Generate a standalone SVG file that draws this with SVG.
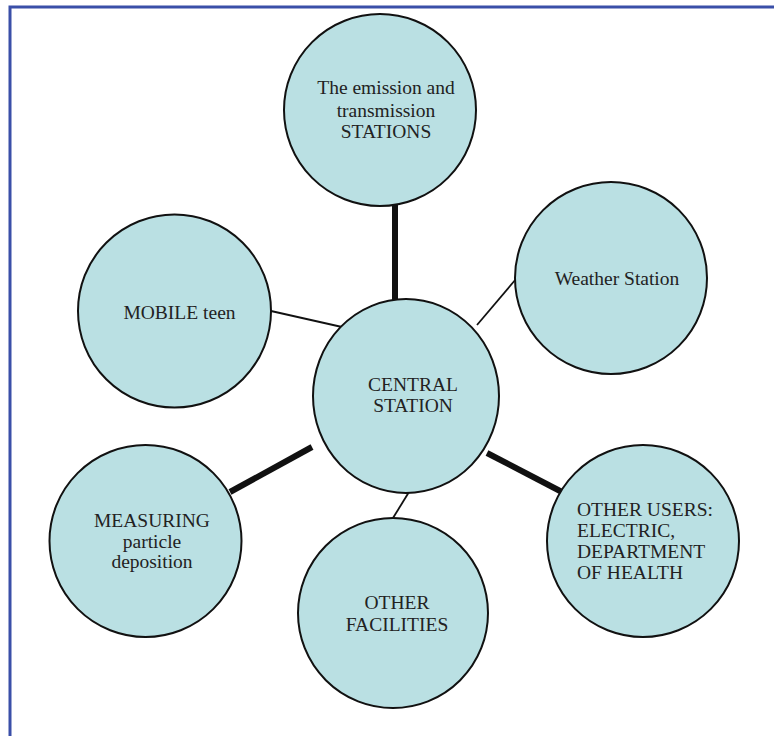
<svg xmlns="http://www.w3.org/2000/svg" width="774" height="736" viewBox="0 0 774 736">
<style>
.n{fill:#bae0e3;stroke:#111;stroke-width:2}
text{font-family:'Liberation Serif',serif;font-size:19.5px;fill:#222}
.c{text-anchor:middle}
.thin{stroke:#111;stroke-width:1.8;fill:none}
.thick{stroke:#111;stroke-width:6;fill:none}
</style>
<rect x="0" y="0" width="774" height="736" fill="#fff"/>
<path d="M10,736 V7 H774" fill="none" stroke="#3a4fa8" stroke-width="3"/>
<g id="connectors">
<line class="thick" x1="395" y1="205" x2="395" y2="300"/>
<line class="thin" x1="271" y1="311" x2="342" y2="327"/>
<line class="thin" x1="516" y1="279" x2="477" y2="325"/>
<line class="thick" x1="230" y1="492" x2="312" y2="447"/>
<line class="thick" x1="487" y1="453" x2="562" y2="492"/>
<line class="thin" x1="409" y1="492" x2="393" y2="518"/>
</g>
<g font-family="Liberation Serif, serif">
<g id="emission">
<circle class="n" cx="380" cy="110" r="96"/>
<text class="c" x="386" y="94">The emission and</text>
<text class="c" x="386" y="117">transmission</text>
<text class="c" x="386" y="138">STATIONS</text>
</g>
<g id="weather">
<circle class="n" cx="611" cy="278" r="96"/>
<text class="c" x="617" y="285">Weather Station</text>
</g>
<g id="mobile">
<circle class="n" cx="174.5" cy="311" r="96.5"/>
<text class="c" x="179.5" y="319">MOBILE teen</text>
</g>
<g id="central">
<ellipse class="n" cx="406" cy="396" rx="93" ry="97"/>
<text class="c" x="413" y="391">CENTRAL</text>
<text class="c" x="413" y="412">STATION</text>
</g>
<g id="measuring">
<circle class="n" cx="145.5" cy="541" r="96"/>
<text class="c" x="152" y="527">MEASURING</text>
<text class="c" x="152" y="548">particle</text>
<text class="c" x="152" y="568">deposition</text>
</g>
<g id="facilities">
<circle class="n" cx="393" cy="613" r="95"/>
<text class="c" x="397" y="609">OTHER</text>
<text class="c" x="397" y="631">FACILITIES</text>
</g>
<g id="users">
<circle class="n" cx="643" cy="541" r="96"/>
<text x="577" y="516">OTHER USERS:</text>
<text x="577" y="537">ELECTRIC,</text>
<text x="577" y="558">DEPARTMENT</text>
<text x="577" y="579">OF HEALTH</text>
</g>
</g>
</svg>
